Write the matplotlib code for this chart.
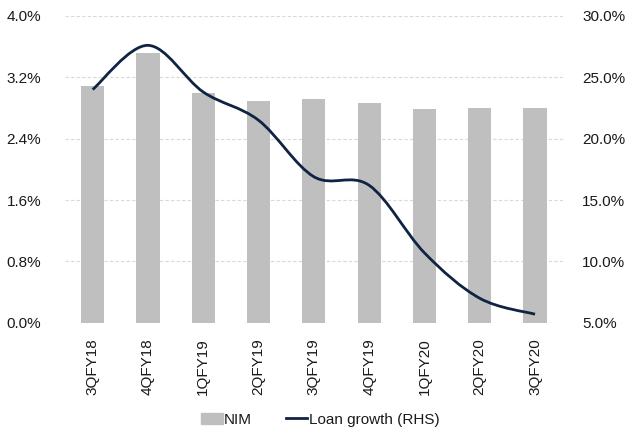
import numpy as np
import matplotlib.pyplot as plt
from matplotlib.path import Path
from matplotlib.patches import PathPatch
from matplotlib.lines import Line2D
from matplotlib.ticker import FuncFormatter

plt.rcParams['font.family'] = ['Liberation Sans', 'DejaVu Sans']

# quarterly NIM and loan growth
quarters = ['3QFY18', '4QFY18', '1QFY19', '2QFY19', '3QFY19',
            '4QFY19', '1QFY20', '2QFY20', '3QFY20']
nim = [3.08, 3.52, 2.99, 2.89, 2.92, 2.86, 2.79, 2.80, 2.80]
loan_growth = [24.0, 27.6, 23.8, 21.5, 16.9, 16.2, 10.7, 7.0, 5.7]

bar_color = '#bfbfbf'
line_color = '#0f2342'
text_color = '#1a1a1a'


def smooth_path(x, y):
    # Catmull-Rom style bezier segments, like a spreadsheet "smoothed line"
    pts = np.column_stack([x, y]).astype(float)
    verts = [pts[0]]
    codes = [Path.MOVETO]
    n = len(pts)
    for i in range(n - 1):
        p0 = pts[i - 1] if i > 0 else pts[i]
        p1 = pts[i]
        p2 = pts[i + 1]
        p3 = pts[i + 2] if i + 2 < n else pts[i + 1]
        c1 = p1 + (p2 - p0) / 6.0
        c2 = p2 - (p3 - p1) / 6.0
        verts += [c1, c2, p2]
        codes += [Path.CURVE4] * 3
    return Path(verts, codes)


fig = plt.figure(figsize=(6.34, 4.41), dpi=100)
ax = fig.add_axes([0.1025, 0.268, 0.785, 0.696])
ax2 = ax.twinx()

x = np.arange(len(quarters))
ax.bar(x, nim, width=0.42, color=bar_color, zorder=2)
ax.set_xlim(-0.5, len(quarters) - 0.5)
ax.set_ylim(0, 4.0)
ax.set_yticks(np.arange(0, 4.01, 0.8))
ax.yaxis.set_major_formatter(FuncFormatter(lambda v, _: f'{v:.1f}%'))
ax.grid(axis='y', color='#d9d9d9', linestyle=(0, (3, 2)), linewidth=0.8, zorder=0)
ax.set_xticks(x)
ax.set_xticklabels(quarters, rotation=90)

ax2.set_ylim(5, 30)
ax2.set_yticks(np.arange(5, 30.01, 5))
ax2.yaxis.set_major_formatter(FuncFormatter(lambda v, _: f'{v:.1f}%'))
ax2.add_patch(PathPatch(smooth_path(x, loan_growth), facecolor='none',
                        edgecolor=line_color, linewidth=2.0, capstyle='butt',
                        zorder=3))

for a in (ax, ax2):
    for s in a.spines.values():
        s.set_visible(False)
    a.tick_params(length=0, labelsize=11, colors=text_color)
ax.tick_params(axis='y', pad=17)
ax.tick_params(axis='x', pad=11)
ax2.tick_params(axis='y', pad=14)

handles = [plt.Rectangle((0, 0), 1, 1, color=bar_color),
           Line2D([0], [0], color=line_color, linewidth=2.0)]
fig.legend(handles, ['NIM', 'Loan growth (RHS)'], loc='center',
           bbox_to_anchor=(0.505, 0.048), ncol=2, frameon=False,
           fontsize=11, handlelength=1.4, handleheight=0.8,
           handletextpad=0.1, columnspacing=2.2, labelcolor=text_color)

fig.savefig('out.png', dpi=100)
